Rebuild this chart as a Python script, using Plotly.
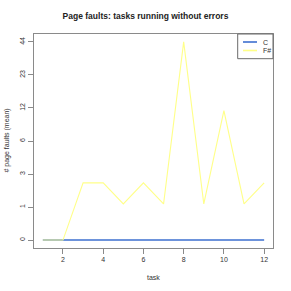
import numpy as np
import plotly.graph_objects as go

tasks = list(range(1, 13))
c_faults = [0, 0, 0, 0, 0, 0, 0, 0, 0, 0, 0, 0]
fs_faults = [0, 0, 2, 2, 1, 2, 1, 44, 1, 11, 1, 2]
series_names = ["C", "F#"]
series_colors = ["#3d6fcf", "#ffff88"]
x_ticks = [2, 4, 6, 8, 10, 12]

ymax = np.log1p(max(max(c_faults), max(fs_faults)))
y_tickvals = np.linspace(0, ymax, 7)
y_ticktext = [str(int(round(v))) for v in np.expm1(y_tickvals)]

fig = go.Figure()
fig.add_trace(go.Scatter(x=tasks, y=np.log1p(c_faults), mode="lines",
                         line=dict(color=series_colors[0], width=1.6), name=series_names[0]))
fig.add_trace(go.Scatter(x=tasks, y=np.log1p(fs_faults), mode="lines",
                         line=dict(color=series_colors[1], width=1.1), name=series_names[1]))

L, R, T, B = 34, 18, 34, 43
pw, ph = 291 - L - R, 291 - T - B
pad_y = ymax * 0.04
fig.update_layout(
    width=291, height=291,
    margin=dict(l=L, r=R, t=T, b=B, autoexpand=False),
    paper_bgcolor="white", plot_bgcolor="white",
    showlegend=False,
    font=dict(family="Liberation Sans, Arial, sans-serif", size=7, color="#333"),
    title=dict(text="<b>Page faults: tasks running without errors</b>", x=0.5, xanchor="center",
               y=1 - 16.5 / 291, yanchor="middle", font=dict(size=8.5, color="#222")),
    xaxis=dict(range=[0.56, 12.44], tickvals=x_ticks, showgrid=False, zeroline=False,
               showline=True, linecolor="#8a8a8a", linewidth=1, mirror=True,
               ticks="outside", ticklen=5, tickcolor="#8a8a8a", automargin=False),
    yaxis=dict(range=[-pad_y, ymax + pad_y], tickvals=y_tickvals, ticktext=y_ticktext,
               tickangle=-90, showgrid=False, zeroline=False,
               showline=True, linecolor="#8a8a8a", linewidth=1, mirror=True,
               ticks="outside", ticklen=5, tickcolor="#8a8a8a", automargin=False),
)

# axis titles
fig.add_annotation(xref="paper", yref="paper", x=0.5, y=-(277.7 - T - ph) / ph,
                   text="task", showarrow=False, xanchor="center", yanchor="middle",
                   font=dict(size=7, color="#333"))
fig.add_annotation(xref="paper", yref="paper", x=-(L - 6.5) / pw, y=0.5,
                   text="# page faults (mean)", showarrow=False, textangle=-90,
                   xanchor="center", yanchor="middle", font=dict(size=7, color="#333"))

# legend box (top-right, inside the plot)
fig.add_shape(type="rect", xref="paper", yref="paper", x0=(237.7 - L) / pw, x1=1,
              y0=1 - (58.7 - T) / ph, y1=1, line=dict(color="#6a6a6a", width=1),
              fillcolor="white", layer="above")
for i, (nm, col) in enumerate(zip(series_names, series_colors)):
    yy = 1 - (42.0 + i * 8.5 - T) / ph
    fig.add_shape(type="line", xref="paper", yref="paper",
                  x0=(243 - L) / pw, x1=(257 - L) / pw, y0=yy, y1=yy,
                  line=dict(color=col, width=1.6), layer="above")
    fig.add_annotation(xref="paper", yref="paper", x=(261 - L) / pw, y=yy, text=nm,
                       showarrow=False, xanchor="left", yanchor="middle",
                       font=dict(size=7, color="#333"))

fig.write_html("out.html", config={"displayModeBar": False},
               post_script="document.body.style.margin='0';document.body.style.padding='0';")
